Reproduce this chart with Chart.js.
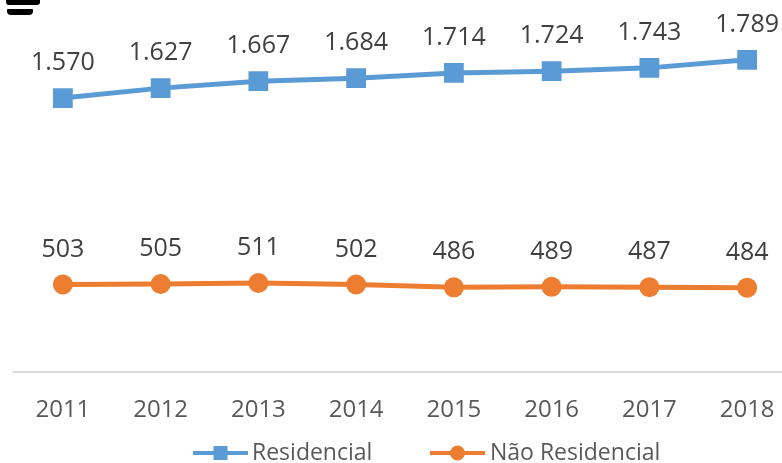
<!DOCTYPE html>
<html>
<head>
<meta charset="utf-8">
<script src="https://cdn.jsdelivr.net/npm/chart.js@4/dist/chart.umd.min.js"></script>
<style>
  html, body { margin: 0; padding: 0; background: #fff; overflow: hidden; }
  #wrap { position: relative; width: 782px; height: 463px; overflow: hidden; }
  #c { position: absolute; left: 0; top: 0; }
  .mark { position: absolute; background: #000; }
  #m1 { left: 6px; top: 0; width: 34px; height: 5px; border-radius: 0 0 3px 3px; }
  #m2 { left: 7px; top: 9px; width: 26px; height: 6px; border-radius: 1px 1px 4px 4px; }
</style>
</head>
<body>
<div id="wrap">
  <div class="mark" id="m1"></div>
  <div class="mark" id="m2"></div>
  <canvas id="c" width="810" height="463"></canvas>
</div>
<script>
const years = ['2011', '2012', '2013', '2014', '2015', '2016', '2017', '2018'];
const residencial = [1570, 1627, 1667, 1684, 1714, 1724, 1743, 1789];
const naoResidencial = [503, 505, 511, 502, 486, 489, 487, 484];
const seriesNames = ['Residencial', 'Não Residencial'];

const BLUE = '#5b9bd5';
const ORANGE = '#ed7d31';
const FONT = '"Open Sans", "Noto Sans", sans-serif';

// thousands separator as used in Portuguese: 1.570
function fmt(v) {
  return String(v).replace(/\B(?=(\d{3})+(?!\d))/g, '.');
}

const valueLabels = {
  id: 'valueLabels',
  afterDatasetsDraw(chart) {
    const ctx = chart.ctx;
    ctx.save();
    ctx.font = '25px ' + FONT;
    ctx.fillStyle = '#404040';
    ctx.textAlign = 'center';
    ctx.textBaseline = 'middle';
    chart.data.datasets.forEach((ds, i) => {
      const meta = chart.getDatasetMeta(i);
      meta.data.forEach((pt, j) => {
        ctx.fillText(fmt(ds.data[j]), pt.x, pt.y - 35);
      });
    });
    ctx.restore();
  }
};

const lineLegend = {
  id: 'lineLegend',
  afterDraw(chart) {
    const ctx = chart.ctx;
    const y = 453;
    const items = [
      { x0: 193, x1: 248, color: BLUE, style: 'rect', text: seriesNames[0], tx: 252 },
      { x0: 430, x1: 485, color: ORANGE, style: 'circle', text: seriesNames[1], tx: 490 }
    ];
    ctx.save();
    items.forEach(it => {
      ctx.strokeStyle = it.color;
      ctx.lineWidth = 4;
      ctx.beginPath();
      ctx.moveTo(it.x0, y);
      ctx.lineTo(it.x1, y);
      ctx.stroke();
      ctx.fillStyle = it.color;
      const cx = (it.x0 + it.x1) / 2;
      if (it.style === 'rect') {
        ctx.fillRect(cx - 7, y - 7, 14, 14);
      } else {
        ctx.beginPath();
        ctx.arc(cx, y, 7.5, 0, Math.PI * 2);
        ctx.fill();
      }
      ctx.font = '23px ' + FONT;
      ctx.fillStyle = '#595959';
      ctx.textAlign = 'left';
      ctx.textBaseline = 'middle';
      ctx.fillText(it.text, it.tx, y);
    });
    ctx.restore();
  }
};

new Chart(document.getElementById('c'), {
  type: 'line',
  data: {
    labels: years,
    datasets: [
      {
        label: seriesNames[0],
        data: residencial,
        borderColor: BLUE,
        backgroundColor: BLUE,
        borderWidth: 5,
        pointStyle: 'rect',
        pointRadius: 14,
        pointBorderWidth: 0,
        tension: 0
      },
      {
        label: seriesNames[1],
        data: naoResidencial,
        borderColor: ORANGE,
        backgroundColor: ORANGE,
        borderWidth: 5,
        pointStyle: 'circle',
        pointRadius: 10,
        pointBorderWidth: 0,
        tension: 0
      }
    ]
  },
  options: {
    responsive: false,
    animation: false,
    devicePixelRatio: 1,
    layout: { padding: { left: 14, right: 5, top: 23, bottom: 15 } },
    plugins: {
      legend: { display: false },
      tooltip: { enabled: false }
    },
    scales: {
      y: { display: false, min: 0, max: 2000 },
      x: {
        offset: true,
        grid: { display: false, drawTicks: false },
        border: { display: true, color: '#d9d9d9', width: 2 },
        ticks: {
          color: '#595959',
          font: { family: FONT, size: 24 },
          padding: 23.5,
          maxRotation: 0,
          autoSkip: false
        }
      }
    }
  },
  plugins: [valueLabels, lineLegend]
});
</script>
</body>
</html>
